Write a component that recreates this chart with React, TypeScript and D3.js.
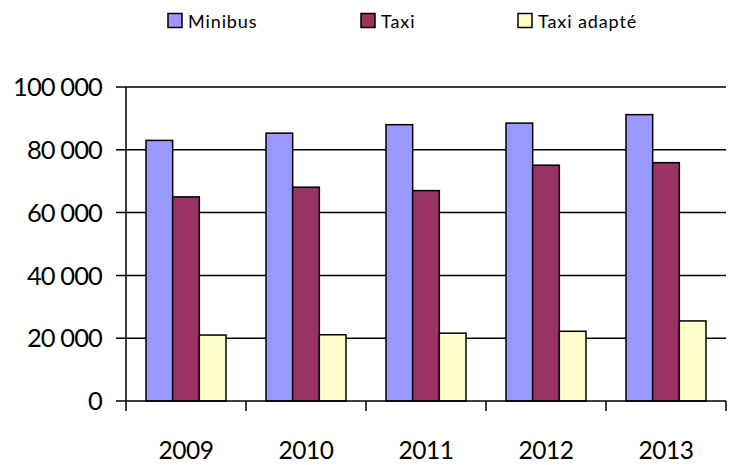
import React, { useEffect } from "react";
import * as d3 from "d3";

const years = ["2009", "2010", "2011", "2012", "2013"];
const seriesNames = ["Minibus", "Taxi", "Taxi adapté"];
const minibus = [83000, 85300, 88000, 88500, 91200];
const taxi = [65000, 68100, 67000, 75100, 75900];
const taxiAdapte = [21000, 21100, 21600, 22200, 25500];
const yTicks = [0, 20000, 40000, 60000, 80000, 100000];
const colors = ["#9999FF", "#993366", "#FFFFCC"];

const width = 736;
const height = 465;
const margin = { top: 87, right: 10, bottom: 64, left: 126 };

const fmt = (v: number) => d3.format(",")(v).replace(/,/g, " ");

const App: React.FC = () => {
    useEffect(() => {
        document.body.style.margin = "0";
    }, []);

    const values = [minibus, taxi, taxiAdapte];

    const x = d3
        .scaleBand<string>()
        .domain(years)
        .range([margin.left, width - margin.right])
        .padding(0);

    // 3 bars per year, gap of 150% bar width between groups
    const xSub = d3
        .scaleBand<string>()
        .domain(seriesNames)
        .range([0, x.bandwidth()])
        .paddingInner(0)
        .paddingOuter(0.75);

    const y = d3
        .scaleLinear()
        .domain([0, 100000])
        .range([height - margin.bottom, margin.top]);

    const x0 = margin.left;
    const x1 = width - margin.right;
    const font = "Lato, 'Open Sans', sans-serif";

    return (
        <svg width={width} height={height} style={{ display: "block", background: "#fff" }}>
            {/* legend */}
            <g fontFamily={font} fontSize={18} letterSpacing={0.9} fill="#000">
                {seriesNames.map((name, i) => {
                    const lx = [168, 361, 518][i];
                    return (
                        <g key={name}>
                            <rect x={lx} y={13.5} width={14} height={14} fill={colors[i]} stroke="#000" strokeWidth={1.5} />
                            <text x={lx + 20} y={28}>{name}</text>
                        </g>
                    );
                })}
            </g>

            {/* gridlines + y ticks */}
            <g>
                {yTicks.map((t) => (
                    <g key={t}>
                        <line x1={x0 - 10} x2={t === 0 ? x0 : x1} y1={y(t)} y2={y(t)} stroke="#000" strokeWidth={1.5} />
                        <text
                            x={x0 - 24}
                            y={y(t)}
                            dy="0.36em"
                            textAnchor="end"
                            fontFamily={font}
                            fontSize={25.5}
                            letterSpacing={-0.9}
                        >
                            {fmt(t)}
                        </text>
                    </g>
                ))}
            </g>

            {/* bars */}
            {years.map((yr, i) => (
                <g key={yr} transform={`translate(${x(yr)},0)`}>
                    {seriesNames.map((s, j) => (
                        <rect
                            key={s}
                            x={xSub(s)}
                            y={y(values[j][i])}
                            width={xSub.bandwidth()}
                            height={y(0) - y(values[j][i])}
                            fill={colors[j]}
                            stroke="#000"
                            strokeWidth={1.5}
                        />
                    ))}
                </g>
            ))}

            {/* axes */}
            <line x1={x0} x2={x0} y1={y(100000)} y2={y(0)} stroke="#000" strokeWidth={1.5} />
            <line x1={x0} x2={x1} y1={y(0)} y2={y(0)} stroke="#000" strokeWidth={1.5} />
            {[...years.map((yr) => x(yr) as number), x1].map((tx, i) => (
                <line key={i} x1={tx} x2={tx} y1={y(0)} y2={y(0) + 10} stroke="#000" strokeWidth={1.5} />
            ))}
            {years.map((yr) => (
                <text
                    key={yr}
                    x={(x(yr) as number) + x.bandwidth() / 2}
                    y={459}
                    textAnchor="middle"
                    fontFamily={font}
                    fontSize={24.5}
                    letterSpacing={-0.5}
                >
                    {yr}
                </text>
            ))}
        </svg>
    );
};

export default App;
